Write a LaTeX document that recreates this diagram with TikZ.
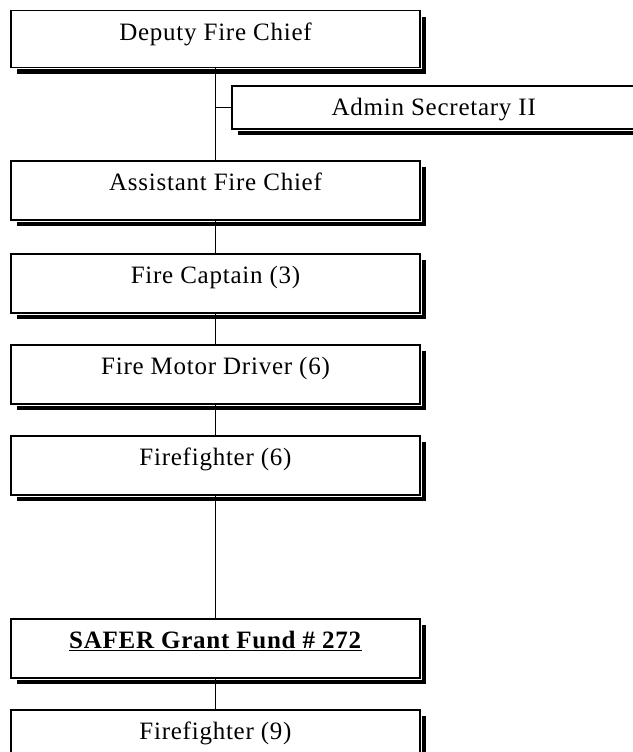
\documentclass[tikz,border=0pt]{standalone}
\usepackage{fontspec}
\setmainfont{Liberation Serif}[LetterSpace=3]
\usetikzlibrary{shadows}

\begin{document}
\begin{tikzpicture}[x=1pt, y=-1pt, line width=1.5pt,
  post/.style={draw, fill=white, anchor=north, minimum width=409pt,
    inner xsep=0pt, inner ysep=4pt, text height=26pt, text depth=25pt,
    font=\fontsize{25}{29}\selectfont,
    drop shadow={shadow xshift=6pt, shadow yshift=-6pt, fill=black, opacity=1},
    preaction={draw=white, line width=3.5pt}}]
  \useasboundingbox (0,0) rectangle (632,752);
  % Leitungsebene
  \node[post, text depth=23pt] (deputy) at (215.5,10) {Deputy Fire Chief};
  \node[post, anchor=north west, minimum width=404pt, text depth=9pt] (admin) at (231,85) {Admin Secretary II};
  \node[post] (assistant) at (215.5,160) {Assistant Fire Chief};
  \node[post] (captain) at (215.5,253) {Fire Captain (3)};
  \node[post] (driver) at (215.5,344) {Fire Motor Driver (6)};
  \node[post] (ff) at (215.5,435) {Firefighter (6)};
  % Foerderprogramm
  \node[post] (safer) at (215.5,618) {\underline{\textbf{SAFER Grant Fund \# 272}}};
  \node[post] (grantff) at (215.5,709) {Firefighter (9)};
  % Verbindungen
  \draw (deputy.south) -- (assistant.north);
  \draw (admin.west) -- (admin.west -| deputy.south);
  \foreach \a/\b in {assistant/captain, captain/driver, driver/ff, ff/safer, safer/grantff}
    \draw (\a.south) -- (\b.north);
\end{tikzpicture}
\end{document}
